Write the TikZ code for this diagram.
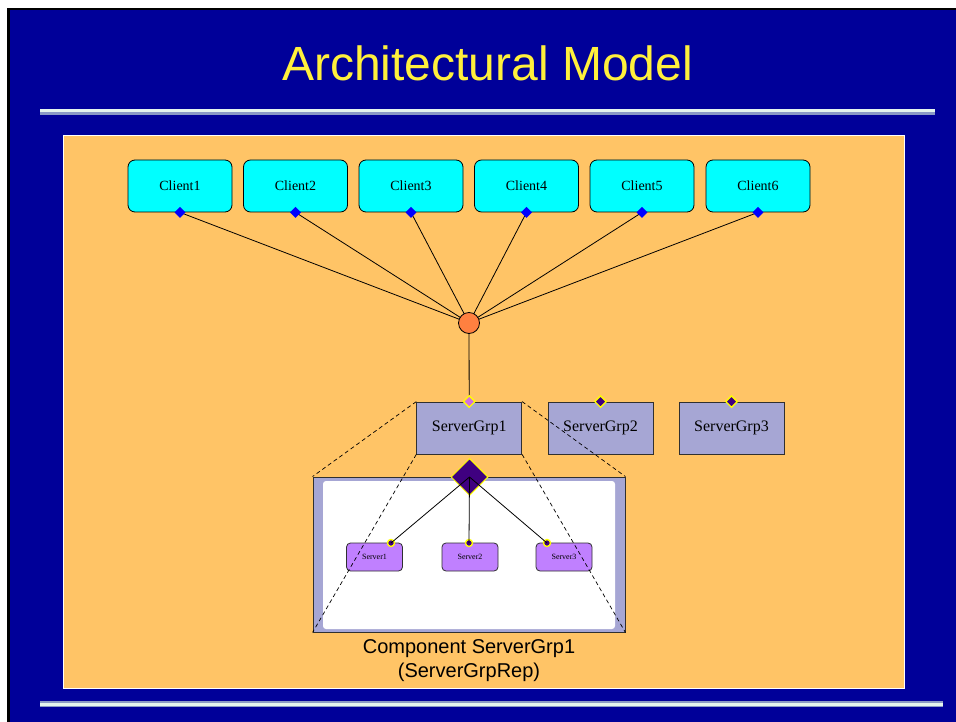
\documentclass[tikz,border=0pt]{standalone}
\usepackage{fontspec}
\setmainfont{Liberation Serif}
\setsansfont{Liberation Sans}
\usetikzlibrary{shapes.geometric}
\definecolor{bgblue}{HTML}{000099}
\definecolor{panel}{HTML}{FFC466}
\definecolor{titleyellow}{HTML}{FFF03C}
\definecolor{rulelight}{HTML}{E4F4EE}
\definecolor{ruledark}{HTML}{8A9AC6}
\definecolor{clientcyan}{HTML}{00FFFF}
\definecolor{portblue}{HTML}{0000FF}
\definecolor{hubor}{HTML}{FF8040}
\definecolor{lav}{HTML}{A6A6D4}
\definecolor{dpurple}{HTML}{3F0080}
\definecolor{pinkp}{HTML}{D070E0}
\definecolor{srvp}{HTML}{C080FF}
\definecolor{portyel}{HTML}{FFFF00}
\definecolor{edgegray}{HTML}{303030}
\pgfdeclarelayer{back}
\pgfdeclarelayer{edges}
\pgfdeclarelayer{front}
\pgfsetlayers{back,edges,main,front}
\tikzset{
  clientbox/.style={rectangle, rounded corners=7pt, draw=black, line width=0.8pt, fill=clientcyan,
    minimum width=104pt, minimum height=52pt, inner sep=0pt, font=\fontsize{14}{16}\selectfont},
  cport/.style={diamond, fill=portblue, inner sep=0pt, minimum size=11pt},
  grpbox/.style={rectangle, draw=edgegray, line width=0.8pt, fill=lav,
    minimum width=105pt, minimum height=52pt, inner sep=0pt, font=\fontsize{16}{18}\selectfont},
  gport/.style={diamond, draw=portyel, line width=1.3pt, fill=dpurple, inner sep=0pt, minimum size=12pt},
  srvbox/.style={rectangle, rounded corners=4pt, draw=edgegray, line width=0.8pt, fill=srvp,
    minimum width=56pt, minimum height=28pt, inner sep=0pt, font=\fontsize{8}{9}\selectfont},
  sport/.style={circle, draw=portyel, line width=1.4pt, fill=dpurple, inner sep=0pt, minimum size=7pt},
  conn/.style={draw=black, line width=0.8pt},
  zoomline/.style={draw=black, line width=0.7pt, dashed, dash pattern=on 4pt off 3pt},
}
\begin{document}
\begin{tikzpicture}[x=1pt,y=-1pt]
\useasboundingbox (0,0) rectangle (956,722);
\begin{pgfonlayer}{back}
  \fill[white] (0,0) rectangle (956,722);
  \fill[black] (7,8) rectangle (956,722);
  \fill[bgblue] (10,10.5) rectangle (956,722);
  % top rule
  \fill[rulelight] (40,109) rectangle (935,112.2);
  \fill[ruledark] (40,112.2) rectangle (935,115);
  % bottom rule
  \fill[ruledark] (40,701) rectangle (943,702.5);
  \fill[rulelight] (40,702.5) rectangle (943,705.5);
  \fill[ruledark] (40,705.5) rectangle (943,707);
  % panel
  \draw[draw=white, line width=1pt, fill=panel] (63.5,135.5) rectangle (904,688);
\end{pgfonlayer}

\node[font=\sffamily\fontsize{48}{56}\selectfont, text=titleyellow] (title) at (487.5,63) {Architectural Model};

% clients
\node[clientbox] (c1) at (180,186) {Client1};
\node[clientbox] (c2) at (295.5,186) {Client2};
\node[clientbox] (c3) at (411,186) {Client3};
\node[clientbox] (c4) at (526.5,186) {Client4};
\node[clientbox] (c5) at (642,186) {Client5};
\node[clientbox] (c6) at (758,186) {Client6};
\foreach \i in {1,...,6} {
  \node[cport] (p\i) at (c\i.south) {};
}

% hub
\node[circle, draw=black, line width=0.8pt, fill=hubor, minimum size=21pt, inner sep=0pt] (hub) at (469,323) {};

% server groups
\node[grpbox] (sg1) at (469.2,428) {ServerGrp1};
\node[grpbox] (sg2) at (600.5,428) {ServerGrp2};
\node[grpbox] (sg3) at (731.5,428) {ServerGrp3};
\node[gport, fill=pinkp] (g1) at (sg1.north) {};
\node[gport] (g2) at (sg2.north) {};
\node[gport] (g3) at (sg3.north) {};

\begin{pgfonlayer}{edges}
  \foreach \i in {1,...,6} {
    \draw[conn] (p\i.center) -- (hub.center);
  }
  \draw[conn] (hub.center) -- (g1.center);
\end{pgfonlayer}

% component box
\node[rectangle, draw=edgegray, line width=0.9pt, fill=lav, minimum width=312pt, minimum height=155pt, inner sep=0pt] (comp) at (469,554.5) {};
\node[rectangle, rounded corners=3pt, fill=white, minimum width=292pt, minimum height=148pt, inner sep=0pt] (inner) at (469,555) {};

% servers
\node[srvbox] (s1) at (374.5,557) {Server1};
\node[srvbox] (s2) at (470,557) {Server2};
\node[srvbox] (s3) at (564,557) {Server3};

% rep diamond
\node[diamond, draw=portyel, line width=1pt, fill=dpurple, minimum size=37pt, inner sep=0pt] (rep) at (469.5,477) {};

\begin{pgfonlayer}{front}
  \node[sport] (sp1) at (391,543) {};
  \node[sport] (sp2) at (469,543) {};
  \node[sport] (sp3) at (547,543) {};
  \draw[conn] (rep.center) -- (sp1.center);
  \draw[conn] (rep.center) -- (sp2.center);
  \draw[conn] (rep.center) -- (sp3.center);
  \draw[zoomline] (sg1.north west) -- (comp.north west);
  \draw[zoomline] (sg1.north east) -- (comp.north east);
  \draw[zoomline] (sg1.south west) -- (comp.south west);
  \draw[zoomline] (sg1.south east) -- (comp.south east);
\end{pgfonlayer}

\node[font=\sffamily\fontsize{20}{24}\selectfont, align=center] (caption) at (469,661) {Component ServerGrp1\\(ServerGrpRep)};
\end{tikzpicture}
\end{document}
